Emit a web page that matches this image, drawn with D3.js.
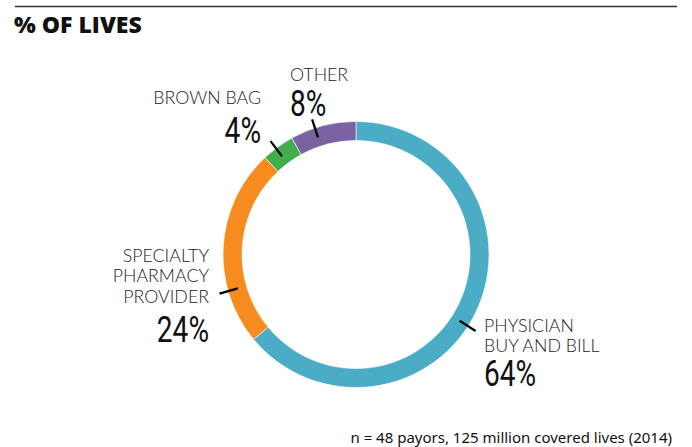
<!DOCTYPE html>
<html>
<head>
<meta charset="utf-8">
<script src="https://cdn.jsdelivr.net/npm/d3@7"></script>
<style>
  body { margin: 0; background: #fff; }
  svg { display: block; }
  .lbl { font-family: Lato, "Open Sans", sans-serif; font-weight: 300; font-size: 17.8px; fill: #222; }
  .pct { font-family: Roboto, "Noto Sans", sans-serif; font-weight: 400; font-size: 37px; fill: #111; }
</style>
</head>
<body>
<svg id="chart" width="692" height="447"></svg>
<script>
// data
var categories = ["PHYSICIAN BUY AND BILL", "SPECIALTY PHARMACY PROVIDER", "BROWN BAG", "OTHER"];
var labelLines = [["PHYSICIAN", "BUY AND BILL"], ["SPECIALTY", "PHARMACY", "PROVIDER"], ["BROWN BAG"], ["OTHER"]];
var values = [64, 24, 4, 8];
var colors = ["#4bacc6", "#f68b1f", "#42ad4a", "#7b62a0"];

// layout for the labels (angle of leader tick in degrees, text position)
var labelLayout = [
  { angle: 122.6, x: 484, y: 331.7, anchor: "start", pctY: 386 },
  { angle: 254,   x: 209, y: 261.7, anchor: "end",   pctY: 341.7 },
  { angle: 323,   x: 261, y: 104.3, anchor: "end",   pctY: 143.3 },
  { angle: 342,   x: 290, y: 80.7,  anchor: "start", pctY: 116 }
];

var svg = d3.select("#chart");
var cx = 356, cy = 254.5;
var outerR = 133, innerR = 114;
var pctSquash = 0.76; // percentages are set in a condensed face

// title + rule
svg.append("line")
    .attr("x1", 15).attr("x2", 677)
    .attr("y1", 6.5).attr("y2", 6.5)
    .attr("stroke", "#333").attr("stroke-width", 1.3);

svg.append("text")
    .attr("x", 14).attr("y", 33)
    .style("font-family", "'Open Sans', 'Noto Sans', sans-serif")
    .style("font-weight", 800)
    .style("font-size", "23px")
    .attr("fill", "#111")
    .text("% OF LIVES");

var pie = d3.pie().sort(null).value(function(d) { return d; });
var arc = d3.arc().innerRadius(innerR).outerRadius(outerR);

var g = svg.append("g").attr("transform", "translate(" + cx + "," + cy + ")");

g.selectAll("path")
    .data(pie(values))
  .enter().append("path")
    .attr("d", arc)
    .attr("fill", function(d, i) { return colors[i]; })
    .attr("stroke", "#fff")
    .attr("stroke-width", 0.6);

// leader ticks
g.selectAll("line.tick")
    .data(labelLayout)
  .enter().append("line")
    .attr("class", "tick")
    .attr("x1", function(d) { return 123 * Math.sin(d.angle * Math.PI / 180); })
    .attr("y1", function(d) { return -123 * Math.cos(d.angle * Math.PI / 180); })
    .attr("x2", function(d) { return 142 * Math.sin(d.angle * Math.PI / 180); })
    .attr("y2", function(d) { return -142 * Math.cos(d.angle * Math.PI / 180); })
    .attr("stroke", "#000")
    .attr("stroke-width", 2.2);

// labels
labelLayout.forEach(function(l, i) {
  labelLines[i].forEach(function(line, j) {
    svg.append("text")
        .attr("class", "lbl")
        .attr("text-anchor", l.anchor)
        .attr("x", l.x)
        .attr("y", l.y + j * 20.7)
        .text(line);
  });
  svg.append("text")
      .attr("class", "pct")
      .attr("text-anchor", l.anchor)
      .attr("transform", "translate(" + l.x + "," + l.pctY + ") scale(" + pctSquash + ",1)")
      .text(values[i] + "%");
});

// footnote
svg.append("text")
    .attr("x", 672).attr("y", 443)
    .attr("text-anchor", "end")
    .style("font-family", "'Noto Sans', 'Open Sans', sans-serif")
    .style("font-size", "15px")
    .attr("fill", "#111")
    .text("n = 48 payors, 125 million covered lives (2014)");
</script>
</body>
</html>
